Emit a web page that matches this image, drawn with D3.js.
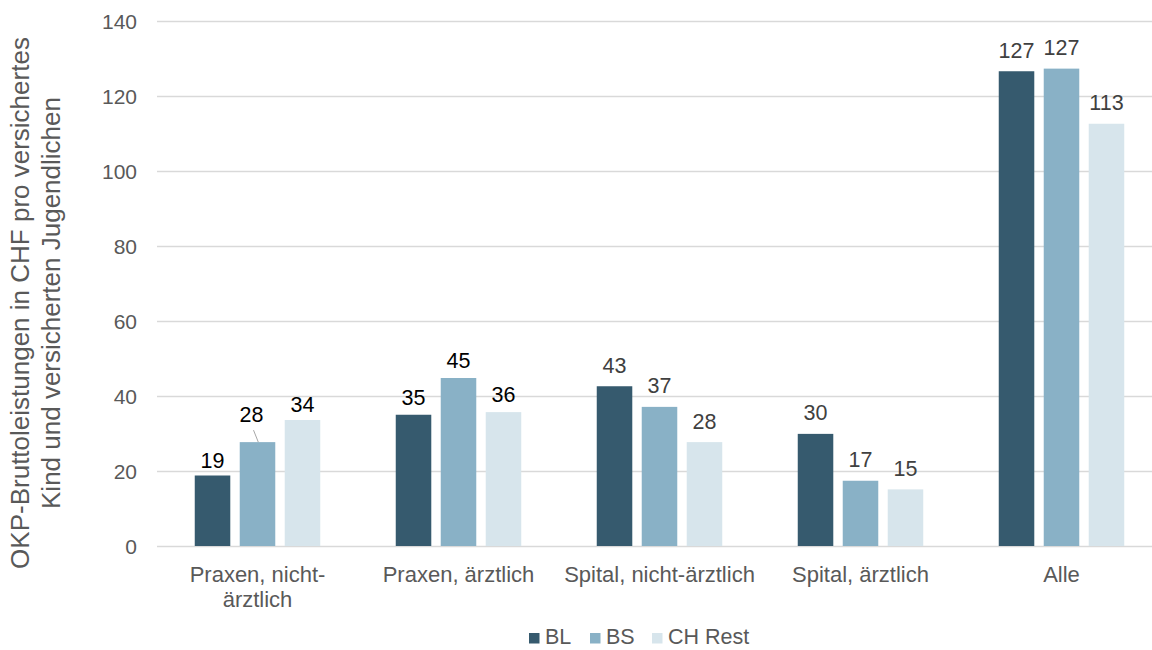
<!DOCTYPE html>
<html>
<head>
<meta charset="utf-8">
<script src="https://cdn.jsdelivr.net/npm/d3@7"></script>
<style>
  body { margin: 0; background: #fff; }
  svg { font-family: "Liberation Sans", Arial, sans-serif; }
  .tick text { fill: #595959; font-size: 21px; }
  .grid line { stroke: #d9d9d9; stroke-width: 1.3; }
  .grid path { display: none; }
</style>
</head>
<body>
<svg width="1152" height="650"></svg>
<script>
// data
const categories = ["Praxen, nicht-ärztlich", "Praxen, ärztlich", "Spital, nicht-ärztlich", "Spital, ärztlich", "Alle"];
const categoryLines = [["Praxen, nicht-", "ärztlich"], ["Praxen, ärztlich"], ["Spital, nicht-ärztlich"], ["Spital, ärztlich"], ["Alle"]];
const series = ["BL", "BS", "CH Rest"];
const valuesBL = [18.8, 35.0, 42.6, 29.9, 126.6];
const valuesBS = [27.7, 44.8, 37.1, 17.4, 127.3];
const valuesCH = [33.6, 35.7, 27.7, 15.1, 112.6];
const yTicks = [0, 20, 40, 60, 80, 100, 120, 140];

const colors = ["#365a6e", "#89b1c6", "#d7e5ec"];
const labelGap = [8, 10, 13.5, 13.5, 13.5];
const allValues = [valuesBL, valuesBS, valuesCH];

const svg = d3.select("svg");

const x0 = d3.scaleBand()
  .domain(categories)
  .range([157, 1162]);

const x1 = d3.scaleBand()
  .domain(series)
  .range([37.75, 163.25])
  .paddingInner(0.21);

const y = d3.scaleLinear()
  .domain([0, 140])
  .range([546, 21]);

// gridlines + y tick labels
const yAxis = svg.append("g")
  .attr("class", "grid")
  .attr("transform", "translate(157,0)")
  .call(d3.axisLeft(y).tickValues(yTicks).tickSize(-1000));
yAxis.selectAll(".tick text")
  .attr("x", -20)
  .attr("dy", "0.36em");

// y axis title
svg.append("text")
  .attr("transform", "translate(29,303) rotate(-90)")
  .attr("text-anchor", "middle")
  .style("font-size", "26px")
  .attr("fill", "#595959")
  .selectAll("tspan")
  .data(["OKP-Bruttoleistungen in CHF pro versichertes", "Kind und versicherten Jugendlichen"])
  .enter()
  .append("tspan")
  .attr("x", 0)
  .attr("dy", (d, i) => i === 0 ? 0 : 31)
  .text(d => d);

// bars
const rows = [];
categories.forEach((c, i) => {
  series.forEach((s, j) => {
    rows.push({ cat: c, ci: i, ser: s, si: j, value: allValues[j][i] });
  });
});

const group = svg.selectAll(".bar")
  .data(rows)
  .enter()
  .append("g")
  .attr("class", "bar")
  .attr("transform", d => "translate(" + x0(d.cat) + ",0)");

group.append("rect")
  .attr("x", d => x1(d.ser))
  .attr("y", d => y(d.value))
  .attr("width", x1.bandwidth())
  .attr("height", d => y(0) - y(d.value))
  .attr("fill", d => colors[d.si]);

// data labels (BS label in first group is moved up with a leader line)
const moved = d => d.ci === 0 && d.si === 1;

group.append("text")
  .attr("x", d => x1(d.ser) + x1.bandwidth() / 2 + (moved(d) ? -6 : 0))
  .attr("y", d => y(d.value) - (moved(d) ? 20 : labelGap[d.ci]))
  .attr("text-anchor", "middle")
  .style("font-size", "21.5px")
  .attr("fill", d => d.ci < 2 ? "#000" : "#404040")
  .text(d => Math.round(d.value));

group.filter(moved)
  .append("line")
  .attr("x1", d => x1(d.ser) + x1.bandwidth() / 2 + 0.8)
  .attr("y1", d => y(d.value))
  .attr("x2", d => x1(d.ser) + x1.bandwidth() / 2 - 4)
  .attr("y2", d => y(d.value) - 12)
  .attr("stroke", "#a6a6a6")
  .attr("stroke-width", 1);

// category labels
const catLabel = svg.selectAll(".cat")
  .data(categories)
  .enter()
  .append("text")
  .attr("class", "cat")
  .attr("text-anchor", "middle")
  .attr("fill", "#595959")
  .style("font-size", "22px")
  .attr("transform", d => "translate(" + (x0(d) + x0.bandwidth() / 2) + ",582)");

catLabel.selectAll("tspan")
  .data((d, i) => categoryLines[i])
  .enter()
  .append("tspan")
  .attr("x", 0)
  .attr("dy", (d, i) => i === 0 ? 0 : 24.5)
  .text(d => d);

// legend
const legendX = [529, 590, 652];
const legend = svg.selectAll(".legend")
  .data(series)
  .enter()
  .append("g")
  .attr("class", "legend")
  .attr("transform", (d, i) => "translate(" + legendX[i] + ",644)");

legend.append("rect")
  .attr("x", 0)
  .attr("y", -11)
  .attr("width", 10.5)
  .attr("height", 10.5)
  .attr("fill", (d, i) => colors[i]);

legend.append("text")
  .attr("x", 16)
  .attr("y", 0)
  .attr("fill", "#595959")
  .style("font-size", "21.5px")
  .text(d => d);
</script>
</body>
</html>
